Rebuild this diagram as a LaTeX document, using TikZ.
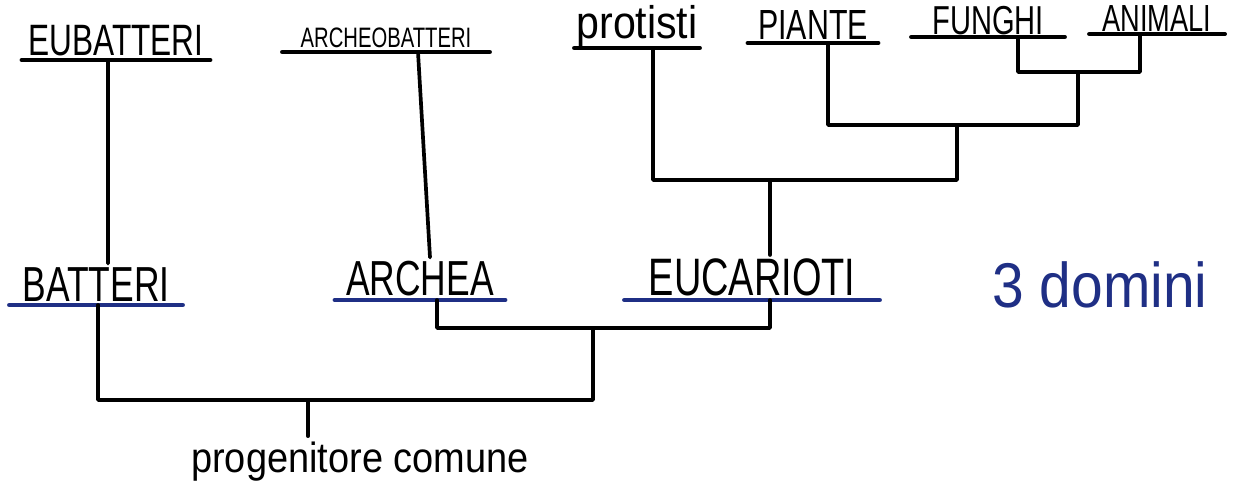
\documentclass[tikz,border=0pt]{standalone}
\usepackage{fontspec}
\newfontfamily\hand[FakeStretch=0.72]{Liberation Sans}
\newfontfamily\handlc[FakeStretch=0.9]{Liberation Sans}
\usetikzlibrary{positioning}
\definecolor{inkblue}{HTML}{1F2F85}
\newcommand{\handsz}[1]{\hand\fontsize{#1}{#1}\selectfont}
\newcommand{\handlcsz}[1]{\handlc\fontsize{#1}{#1}\selectfont}
\tikzset{
  taxon/.style={anchor=south,inner xsep=0pt,inner ysep=2pt},
  uline/.style={line width=2.4pt,line cap=round},
  branch/.style={line width=2.1pt,line cap=round,line join=round}
}

\begin{document}
\begin{tikzpicture}[x=0.02cm,y=-0.02cm]
\useasboundingbox (0,0) rectangle (1243,498);
% top row
\node (eub) [taxon,minimum width=3.76cm,font=\handsz{25}] at (116,60) {EUBATTERI};
\node (arcb) [taxon,minimum width=4.14cm,font=\handsz{16}] at (386,52) {ARCHEOBATTERI};
\node (prot) [taxon,inner ysep=0pt,minimum width=2.5cm,font=\handlcsz{26}] at (637,48) {protisti};
\node (pian) [taxon,minimum width=2.6cm,font=\handsz{24}] at (813,43) {PIANTE};
\node (fung) [taxon,inner ysep=1pt,minimum width=3.06cm,font=\handsz{23}] at (988,37) {FUNGHI};
\node (anim) [taxon,inner ysep=1pt,minimum width=2.7cm,font=\handsz{21.5}] at (1157,34) {ANIMALI};
% domains
\node (batt) [taxon,minimum width=3.46cm,font=\handsz{28}] at (96,305) {BATTERI};
\node (arch) [taxon,minimum width=3.4cm,font=\handsz{28}] at (420,300) {ARCHEA};
\node (euc) [taxon,minimum width=5.1cm,font=\handsz{30}] at (752,300) {EUCARIOTI};
\node (dom) [font=\handlcsz{36},text=inkblue] at (1100,285) {3 domini};
\node (prog) [font=\handlcsz{24}] at (360,462) {progenitore comune};

\foreach \n in {eub,arcb,prot,pian,fung,anim}
  \draw[uline] (\n.south west) -- (\n.south east);
\foreach \n in {batt,arch,euc}
  \draw[uline,inkblue] (\n.south west) -- (\n.south east);

% junctions
\coordinate (fa) at (1078,72);
\coordinate (pfa) at (957,125);
\coordinate (eu) at (770,180);
\coordinate (ae) at (593,328);
\coordinate (root) at (308,400);

\draw[branch] ([xshift=0.6cm]fung.south) |- (fa) -| ([xshift=-0.34cm]anim.south);
\draw[branch] ([xshift=0.3cm]pian.south) |- (pfa) -| (fa);
\draw[branch] ([xshift=0.32cm]prot.south) |- (eu) -| (pfa);
\draw[branch] (eu) -- (eu |- euc.north);
\draw[branch] ([xshift=0.64cm]arcb.south) -- ([xshift=0.2cm]arch.north);
\draw[branch] ([xshift=-0.16cm]eub.south) -- ([xshift=0.24cm]batt.north);
\draw[branch] ([xshift=0.34cm]arch.south) |- (ae) -| ([xshift=0.36cm]euc.south);
\draw[branch] ([xshift=0.04cm]batt.south) |- (root) -| (ae);
\draw[branch] (root) -- (root |- prog.north);
\end{tikzpicture}
\end{document}
